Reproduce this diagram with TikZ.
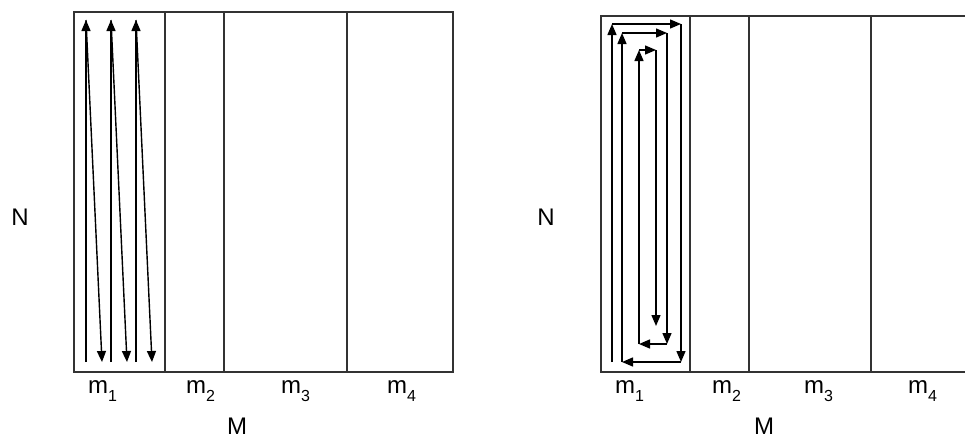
\documentclass[tikz,border=0pt]{standalone}
\usepackage{fontspec}
\setmainfont{Liberation Sans}
\usetikzlibrary{arrows.meta}
\newcommand{\msub}[1]{m{\fontsize{16}{16}\selectfont\raisebox{-8.5pt}{#1}}}
\begin{document}
\begin{tikzpicture}[x=1pt,y=-1pt,
  frame/.style={draw=black!80,line width=1.3pt},
  arr/.style={draw=black,line width=1.4pt,-{Triangle[length=11pt,width=9pt]}},
  lbl/.style={font=\fontsize{24}{24}\selectfont,inner sep=0pt},
  mlbl/.style={lbl,anchor=base west}]
\useasboundingbox (0,0) rectangle (965,439);
\begin{scope}
\clip (0,0) rectangle (965,439);
% left frame
\draw[frame] (74,12) rectangle (453,372);
\foreach \x in {165,224,347} \draw[frame] (\x,12) -- (\x,372);
% right frame
\draw[frame] (601,16) rectangle (977,372);
\foreach \x in {690,749,871} \draw[frame] (\x,16) -- (\x,372);
\end{scope}
% left arrows
\foreach \x/\n in {86/1,111/2,136/3}{
  \coordinate (b\n) at (\x,362);
  \coordinate (t\n) at (\x,20);
  \coordinate (d\n) at (\x+16,362);
  \draw[arr] (b\n) -- (t\n);
  \draw[arr] (t\n) -- (d\n);
}
% right spiral
\coordinate (a0) at (612,362);
\coordinate (a1) at (612,24);
\coordinate (a2) at (681,24);
\coordinate (a3) at (681,362);
\coordinate (a4) at (622,362);
\coordinate (a5) at (622,33);
\coordinate (a6) at (667,33);
\coordinate (a7) at (667,344);
\coordinate (a8) at (639,344);
\coordinate (a9) at (639,50);
\coordinate (a10) at (656,50);
\coordinate (a11) at (656,326);
\foreach \i/\j in {a0/a1,a1/a2,a2/a3,a3/a4,a4/a5,a5/a6,a6/a7,a7/a8,a8/a9,a9/a10,a10/a11}
  \draw[arr] (\i) -- (\j);
% labels left
\node[mlbl] (lm1) at (88,393) {\msub{1}};
\node[mlbl] (lm2) at (186,393) {\msub{2}};
\node[mlbl] (lm3) at (281,393) {\msub{3}};
\node[mlbl] (lm4) at (387,393) {\msub{4}};
\node[lbl,anchor=base] (lM) at (237,434) {M};
\node[lbl] (lN) at (20,217) {N};
% labels right
\node[mlbl] (rm1) at (615,393) {\msub{1}};
\node[mlbl] (rm2) at (712,393) {\msub{2}};
\node[mlbl] (rm3) at (804,393) {\msub{3}};
\node[mlbl] (rm4) at (908,393) {\msub{4}};
\node[lbl,anchor=base] (rM) at (764,434) {M};
\node[lbl] (rN) at (546,217) {N};
\end{tikzpicture}
\end{document}
